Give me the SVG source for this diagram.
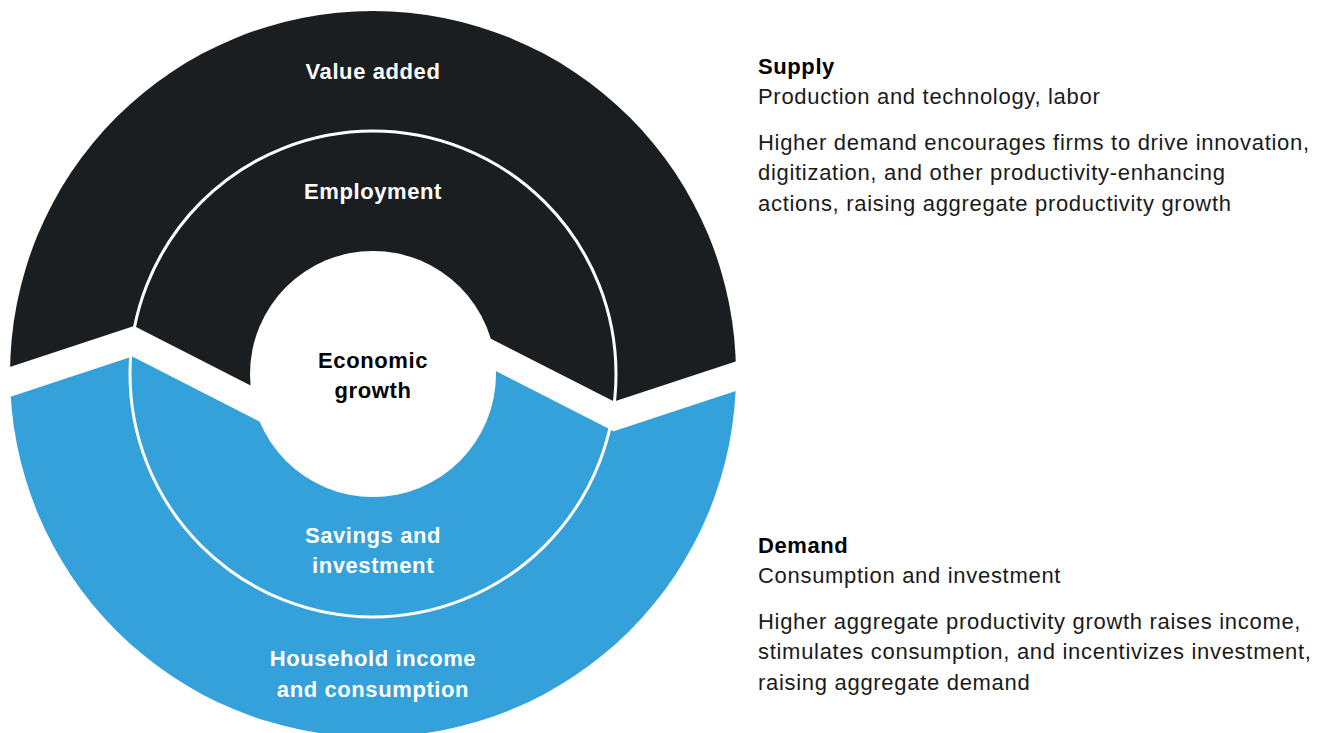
<svg xmlns="http://www.w3.org/2000/svg" width="1330" height="733" viewBox="0 0 1330 733">
  <style>
    .lbl { font-family: "Liberation Sans", Arial, sans-serif; font-weight: bold; font-size: 22px; letter-spacing: 0.6px; text-anchor: middle; fill: #ffffff; }
    .ctr { fill: #000000; }
    .hd { font-family: "Liberation Sans", Arial, sans-serif; font-weight: bold; font-size: 22px; letter-spacing: 0.6px; fill: #000000; }
    .tx { font-family: "Liberation Sans", Arial, sans-serif; font-size: 22px; letter-spacing: 0.7px; fill: #1a1a1a; }
  </style>
  <defs>
    <clipPath id="clipTop">
      <polygon points="0,-10 760,-10 760,353.4 614.1,401.6 450,317.9 300,410.6 134.1,326 0,370.3"/>
    </clipPath>
    <clipPath id="clipBottom">
      <polygon points="0,400.3 132.3,356.6 300,442.2 450,347.7 613.7,431.2 760,382.9 760,760 0,760"/>
    </clipPath>
  </defs>
  <rect x="0" y="0" width="1330" height="733" fill="#ffffff"/>

  <g id="supply-half">
    <circle cx="373" cy="374" r="363" fill="#1b1e21" clip-path="url(#clipTop)"/>
  </g>
  <g id="demand-half">
    <circle cx="373" cy="374" r="363" fill="#34a1da" clip-path="url(#clipBottom)"/>
  </g>
  <g id="ring-divider">
    <circle cx="373" cy="374" r="243" fill="none" stroke="#ffffff" stroke-width="3"/>
  </g>
  <g id="economic-growth">
    <circle cx="373" cy="374" r="123" fill="#ffffff"/>
    <text class="lbl ctr" x="373" y="368">Economic</text>
    <text class="lbl ctr" x="373" y="398">growth</text>
  </g>
  <g id="value-added">
    <text class="lbl" x="373" y="79">Value added</text>
  </g>
  <g id="employment">
    <text class="lbl" x="373" y="199">Employment</text>
  </g>
  <g id="savings-investment">
    <text class="lbl" x="373" y="543">Savings and</text>
    <text class="lbl" x="373" y="573">investment</text>
  </g>
  <g id="household-income">
    <text class="lbl" x="373" y="666">Household income</text>
    <text class="lbl" x="373" y="697">and consumption</text>
  </g>
  <g id="connectors"></g>

  <g id="supply-text">
    <text class="hd" x="758" y="74">Supply</text>
    <text class="tx" x="758" y="104">Production and technology, labor</text>
    <text class="tx" x="758" y="150">Higher demand encourages firms to drive innovation,</text>
    <text class="tx" x="758" y="180">digitization, and other productivity-enhancing</text>
    <text class="tx" x="758" y="211">actions, raising aggregate productivity growth</text>
  </g>
  <g id="demand-text">
    <text class="hd" x="758" y="553">Demand</text>
    <text class="tx" x="758" y="583">Consumption and investment</text>
    <text class="tx" x="758" y="629">Higher aggregate productivity growth raises income,</text>
    <text class="tx" x="758" y="659">stimulates consumption, and incentivizes investment,</text>
    <text class="tx" x="758" y="690">raising aggregate demand</text>
  </g>
</svg>
